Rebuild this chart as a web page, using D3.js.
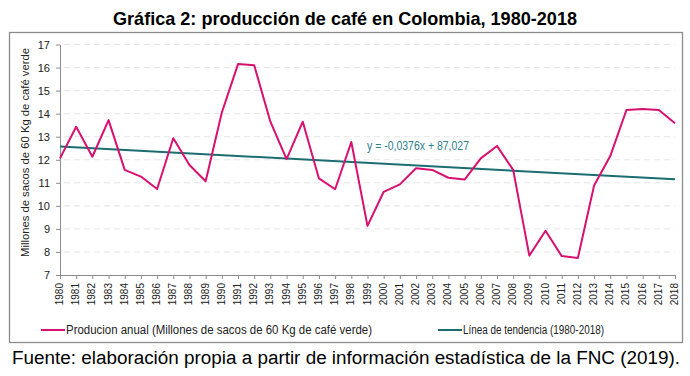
<!DOCTYPE html>
<html>
<head>
<meta charset="utf-8">
<script src="https://cdn.jsdelivr.net/npm/d3@7"></script>
<style>
  body { margin: 0; background: #fff; }
  svg { display: block; }
</style>
</head>
<body>
<svg id="chart"></svg>
<script>
// datos
var years = d3.range(1980, 2019)
var produccion = [12.06, 13.43, 12.13, 13.72, 11.56, 11.27, 10.73, 12.93, 11.77, 11.07,
    14.05, 16.15, 16.10, 13.65, 12.03, 13.65, 11.19, 10.72, 12.77, 9.13,
    10.61, 10.93, 11.63, 11.56, 11.22, 11.14, 12.06, 12.60, 11.56, 7.84,
    8.92, 7.82, 7.74, 10.88, 12.16, 14.16, 14.20, 14.16, 13.58]
var tendencia = {slope: -0.0376, intercept: 87.027}
var yTicks = [7, 8, 9, 10, 11, 12, 13, 14, 15, 16, 17]

var width = 690, height = 376
var margin = ({top: 44.5, right: 15, bottom: 101, left: 60})
var font = "'Liberation Sans', Arial, sans-serif"
var pink = "#d8106f"
var teal = "#1b6d72"

var svg = d3.select('#chart')
    .attr("width", width)
    .attr("height", height)

// titulo
svg.append("text")
    .attr("x", 345).attr("y", 25)
    .attr("text-anchor", "middle")
    .attr("font-family", font)
    .attr("font-weight", "bold")
    .attr("font-size", 18.5)
    .attr("textLength", 464)
    .attr("lengthAdjust", "spacingAndGlyphs")
    .text("Gráfica 2: producción de café en Colombia, 1980-2018")

// marco
svg.append("rect")
    .attr("x", 9.5).attr("y", 32.5)
    .attr("width", 673).attr("height", 310)
    .attr("fill", "none")
    .attr("stroke", "#8c8c8c")
    .attr("stroke-width", 1.3)

var x = d3.scaleLinear()
    .domain([1980, 2018])
    .range([margin.left, width - margin.right])
var y = d3.scaleLinear()
    .domain([7, 17])
    .range([height - margin.bottom, margin.top])

// grid
svg.append("g")
    .selectAll("line")
    .data(yTicks.slice(1))
    .join("line")
    .attr("x1", margin.left + 4).attr("x2", width - margin.right)
    .attr("y1", d => y(d)).attr("y2", d => y(d))
    .attr("stroke", "#e6e6e6")
    .attr("stroke-dasharray", "6,4")

var yAxis = g => g
    .attr("transform", `translate(${margin.left},0)`)
    .call(d3.axisLeft(y).tickValues(yTicks).tickSize(4).tickSizeOuter(0).tickPadding(6))
    .call(g => g.selectAll("path, line").attr("stroke", "#8c8c8c"))
    .call(g => g.selectAll("text")
        .attr("font-family", font)
        .attr("font-size", 11)
        .attr("fill", "#222"))

var xAxis = g => g
    .attr("transform", `translate(0,${height - margin.bottom})`)
    .call(d3.axisBottom(x).tickValues(years).tickFormat(d3.format("d")).tickSize(4).tickSizeOuter(0))
    .call(g => g.selectAll("path, line").attr("stroke", "#8c8c8c"))
    .call(g => g.selectAll("text")
        .attr("font-family", font)
        .attr("font-size", 10)
        .attr("fill", "#222")
        .attr("transform", "rotate(-90)")
        .attr("text-anchor", "end")
        .attr("x", -8)
        .attr("y", -1)
        .attr("dy", "0.35em"))

svg.append("g").call(xAxis)
svg.append("g").call(yAxis)

svg.append("text")
    .attr("transform", `translate(29,152.5) rotate(-90)`)
    .attr("text-anchor", "middle")
    .attr("font-family", font)
    .attr("font-size", 11.5)
    .attr("fill", "#222")
    .attr("textLength", 209)
    .attr("lengthAdjust", "spacingAndGlyphs")
    .text("Millones de sacos de 60 Kg de café verde")

// linea de tendencia
var trend = d => tendencia.slope * d + tendencia.intercept
svg.append("line")
    .attr("x1", x(1980)).attr("y1", y(trend(1980)))
    .attr("x2", x(2018)).attr("y2", y(trend(2018)))
    .attr("stroke", teal)
    .attr("stroke-width", 2)

var line = d3.line()
    .x((d, i) => x(years[i]))
    .y(d => y(d))

svg.append("path")
    .datum(produccion)
    .attr("fill", "none")
    .attr("stroke", pink)
    .attr("stroke-width", 2)
    .attr("stroke-linejoin", "round")
    .attr("d", line)

svg.append("text")
    .attr("x", 367).attr("y", 150)
    .attr("font-family", font)
    .attr("font-size", 12.5)
    .attr("fill", "#2f7f8c")
    .attr("textLength", 102)
    .attr("lengthAdjust", "spacingAndGlyphs")
    .text("y = -0,0376x + 87,027")

// leyenda
var legend = [
    {name: "Producion anual (Millones de sacos de 60 Kg de café verde)", color: pink, x: 41, w: 306},
    {name: "Línea de tendencia (1980-2018)", color: teal, x: 438, w: 141}
]
var lg = svg.append("g")
    .selectAll("g")
    .data(legend)
    .join("g")
    .attr("transform", d => `translate(${d.x},330)`)
lg.append("line")
    .attr("x1", 0).attr("x2", 24)
    .attr("stroke", d => d.color)
    .attr("stroke-width", 2)
lg.append("text")
    .attr("x", 25).attr("dy", "0.35em")
    .attr("font-family", font)
    .attr("font-size", 12.5)
    .attr("fill", "#222")
    .attr("textLength", d => d.w)
    .attr("lengthAdjust", "spacingAndGlyphs")
    .text(d => d.name)

// fuente
svg.append("text")
    .attr("x", 346).attr("y", 364)
    .attr("text-anchor", "middle")
    .attr("font-family", font)
    .attr("font-size", 18)
    .attr("textLength", 668)
    .attr("lengthAdjust", "spacingAndGlyphs")
    .text("Fuente: elaboración propia a partir de información estadística de la FNC (2019).")
</script>
</body>
</html>
